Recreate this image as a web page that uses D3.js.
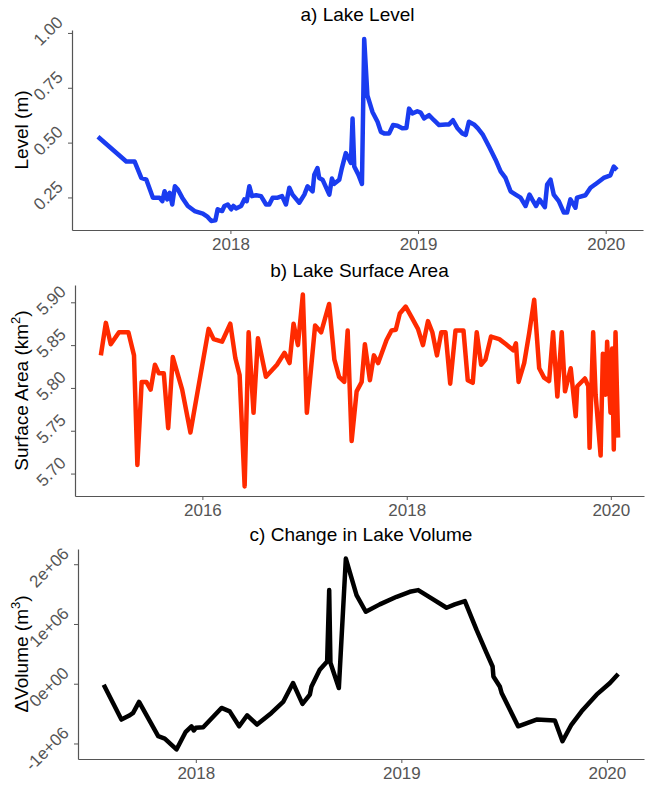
<!DOCTYPE html>
<html>
<head>
<meta charset="utf-8">
<script src="https://cdn.jsdelivr.net/npm/d3@7"></script>
<style>
  body { margin: 0; background: #fff; }
  svg { font-family: "Liberation Sans", Arial, sans-serif; }
</style>
</head>
<body>
<svg id="svg" width="654" height="792"></svg>
<script>
// a) lake level (m), dates as decimal years
const levelYear = [2017.294, 2017.445, 2017.489, 2017.525, 2017.552, 2017.587, 2017.622, 2017.637, 2017.649, 2017.663,
  2017.676, 2017.690, 2017.704, 2017.720, 2017.743, 2017.773, 2017.809, 2017.853, 2017.879, 2017.897,
  2017.920, 2017.932, 2017.956, 2017.968, 2017.986, 2018.004, 2018.016, 2018.030, 2018.057, 2018.074,
  2018.087, 2018.101, 2018.115, 2018.137, 2018.163, 2018.190, 2018.207, 2018.225, 2018.252, 2018.275,
  2018.296, 2018.314, 2018.331, 2018.367, 2018.394, 2018.411, 2018.438, 2018.447, 2018.464, 2018.473,
  2018.491, 2018.527, 2018.541, 2018.553, 2018.580, 2018.594, 2018.615, 2018.629, 2018.642, 2018.651,
  2018.660, 2018.682, 2018.701, 2018.713, 2018.730, 2018.757, 2018.784, 2018.802, 2018.819, 2018.846,
  2018.867, 2018.890, 2018.916, 2018.938, 2018.952, 2018.970, 2018.996, 2019.014, 2019.032, 2019.059,
  2019.085, 2019.112, 2019.147, 2019.165, 2019.186, 2019.209, 2019.236, 2019.254, 2019.271, 2019.298,
  2019.319, 2019.346, 2019.378, 2019.413, 2019.440, 2019.466, 2019.493, 2019.520, 2019.546, 2019.573,
  2019.594, 2019.608, 2019.629, 2019.647, 2019.676, 2019.688, 2019.706, 2019.723, 2019.750, 2019.777,
  2019.794, 2019.812, 2019.839, 2019.847, 2019.892, 2019.919, 2019.954, 2019.989, 2020.025, 2020.043, 2020.060];
const levelM = [0.527, 0.414, 0.414, 0.339, 0.331, 0.249, 0.249, 0.233, 0.278, 0.241,
  0.271, 0.218, 0.301, 0.286, 0.249, 0.211, 0.188, 0.176, 0.161, 0.143,
  0.146, 0.196, 0.188, 0.211, 0.218, 0.196, 0.211, 0.200, 0.211, 0.241,
  0.233, 0.301, 0.256, 0.260, 0.256, 0.218, 0.218, 0.249, 0.249, 0.256,
  0.218, 0.294, 0.263, 0.226, 0.263, 0.301, 0.278, 0.354, 0.384, 0.339,
  0.331, 0.263, 0.336, 0.312, 0.331, 0.384, 0.452, 0.429, 0.407, 0.610,
  0.391, 0.354, 0.312, 0.972, 0.715, 0.640, 0.595, 0.549, 0.542, 0.542,
  0.580, 0.577, 0.565, 0.567, 0.655, 0.633, 0.643, 0.637, 0.610, 0.625,
  0.602, 0.580, 0.583, 0.583, 0.602, 0.567, 0.542, 0.535, 0.595, 0.583,
  0.565, 0.535, 0.482, 0.422, 0.369, 0.339, 0.278, 0.263, 0.249, 0.211,
  0.263, 0.241, 0.211, 0.241, 0.206, 0.309, 0.331, 0.263, 0.233, 0.181,
  0.181, 0.241, 0.203, 0.249, 0.260, 0.294, 0.316, 0.339, 0.351, 0.391, 0.376];
const levelTicks = [0.25, 0.5, 0.75, 1.0];
const levelTickLabels = ['0.25', '0.50', '0.75', '1.00'];
const levelYearTicks = [2018, 2019, 2020];

// b) surface area (km2)
const areaYear = [2015.005, 2015.054, 2015.102, 2015.183, 2015.275, 2015.330, 2015.363, 2015.405, 2015.451, 2015.493,
  2015.535, 2015.574, 2015.622, 2015.665, 2015.710, 2015.802, 2015.883, 2016.061, 2016.110, 2016.192,
  2016.273, 2016.322, 2016.364, 2016.413, 2016.452, 2016.500, 2016.543, 2016.621, 2016.729, 2016.803,
  2016.852, 2016.891, 2016.934, 2016.982, 2017.021, 2017.102, 2017.161, 2017.239, 2017.291, 2017.337,
  2017.388, 2017.421, 2017.460, 2017.509, 2017.558, 2017.590, 2017.639, 2017.678, 2017.720, 2017.802,
  2017.851, 2017.893, 2017.932, 2017.990, 2018.046, 2018.110, 2018.159, 2018.208, 2018.251, 2018.296,
  2018.339, 2018.380, 2018.426, 2018.478, 2018.556, 2018.598, 2018.647, 2018.686, 2018.729, 2018.771,
  2018.826, 2018.907, 2018.973, 2019.044, 2019.070, 2019.096, 2019.151, 2019.200, 2019.249, 2019.298,
  2019.346, 2019.395, 2019.434, 2019.476, 2019.519, 2019.551, 2019.607, 2019.656, 2019.671, 2019.746,
  2019.779, 2019.792, 2019.827, 2019.851, 2019.900, 2019.922, 2019.948, 2019.964, 2019.997, 2020.013,
  2020.029, 2020.046, 2020.071];
const areaKm2 = [5.838, 5.876, 5.851, 5.865, 5.865, 5.838, 5.710, 5.807, 5.807, 5.798,
  5.827, 5.817, 5.817, 5.753, 5.836, 5.798, 5.748, 5.869, 5.857, 5.854,
  5.875, 5.835, 5.815, 5.685, 5.865, 5.771, 5.858, 5.813, 5.827, 5.841,
  5.829, 5.875, 5.850, 5.909, 5.771, 5.873, 5.865, 5.898, 5.833, 5.813,
  5.807, 5.867, 5.738, 5.796, 5.807, 5.851, 5.809, 5.838, 5.829, 5.856,
  5.867, 5.868, 5.887, 5.895, 5.883, 5.869, 5.850, 5.878, 5.865, 5.838,
  5.865, 5.865, 5.805, 5.867, 5.867, 5.809, 5.806, 5.865, 5.827, 5.833,
  5.860, 5.857, 5.851, 5.844, 5.852, 5.807, 5.829, 5.864, 5.903, 5.823,
  5.812, 5.808, 5.865, 5.790, 5.865, 5.796, 5.823, 5.767, 5.802, 5.811,
  5.802, 5.730, 5.865, 5.792, 5.721, 5.840, 5.792, 5.854, 5.771, 5.846,
  5.728, 5.865, 5.742];
const areaTicks = [5.70, 5.75, 5.80, 5.85, 5.90];
const areaTickLabels = ['5.70', '5.75', '5.80', '5.85', '5.90'];
const areaYearTicks = [2016, 2018, 2020];

// c) change in volume (m3)
const volYear = [2017.552, 2017.638, 2017.679, 2017.695, 2017.724, 2017.817, 2017.849, 2017.906, 2017.951, 2017.979,
  2017.990, 2018.000, 2018.036, 2018.125, 2018.165, 2018.211, 2018.250, 2018.298, 2018.368, 2018.425,
  2018.473, 2018.519, 2018.555, 2018.563, 2018.603, 2018.639, 2018.649, 2018.655, 2018.696, 2018.730,
  2018.782, 2018.827, 2018.895, 2018.977, 2019.041, 2019.082, 2019.147, 2019.220, 2019.260, 2019.309,
  2019.366, 2019.415, 2019.444, 2019.448, 2019.479, 2019.488, 2019.568, 2019.658, 2019.747, 2019.784,
  2019.828, 2019.877, 2019.950, 2020.015, 2020.055];
const volChange = [-17000, -600000, -528000, -488000, -305000, -878000, -917000, -1100000, -805000, -712000,
  -783000, -738000, -728000, -405000, -462000, -712000, -528000, -683000, -488000, -305000,
  12000, -338000, -183000, -45000, 233000, 372000, 1567000, 350000, -72000, 2095000,
  1483000, 1205000, 1328000, 1455000, 1538000, 1567000, 1428000, 1272000, 1328000, 1383000,
  900000, 512000, 288000, 122000, -45000, -155000, -712000, -600000, -617000, -962000,
  -683000, -462000, -183000, 12000, 162000];
const volTicks = [-1e6, 0, 1e6, 2e6];
const volTickLabels = ['-1e+06', '0e+00', '1e+06', '2e+06'];
const volYearTicks = [2018, 2019, 2020];

function yearToDate(y) {
  const yr = Math.floor(y);
  const start = new Date(yr, 0, 1), end = new Date(yr + 1, 0, 1);
  return new Date(+start + (y - yr) * (end - start));
}

// ggplot style 5% expansion
function expand(ext) {
  const pad = (ext[1] - ext[0]) * 0.05;
  return [ext[0] - pad, ext[1] + pad];
}

const svg = d3.select('#svg');
const tickColor = '#555';

const panels = [
  { title: 'a) Lake Level', titleY: 21, years: levelYear, values: levelM, color: '#1a3cf0',
    box: { l: 72, r: 643, t: 30, b: 230 }, yTicks: levelTicks, yLabels: levelTickLabels,
    xTicks: levelYearTicks, yTitle: ['Level (m)'] },
  { title: 'b) Lake Surface Area', titleY: 277, years: areaYear, values: areaKm2, color: '#ff2a00',
    box: { l: 75, r: 644, t: 285, b: 496 }, yTicks: areaTicks, yLabels: areaTickLabels,
    xTicks: areaYearTicks, yTitle: ['Surface Area (km', '2', ')'] },
  { title: 'c) Change in Lake Volume', titleY: 541, years: volYear, values: volChange, color: '#000',
    box: { l: 78, r: 644, t: 549, b: 759 }, yTicks: volTicks, yLabels: volTickLabels,
    xTicks: volYearTicks, yTitle: ['\u0394Volume (m', '3', ')'] }
];

panels.forEach(p => {
  const n = Math.min(p.years.length, p.values.length);
  const data = d3.range(n).map(i => ({ date: yearToDate(p.years[i]), value: p.values[i] }));
  const xExt = expand(d3.extent(p.years));
  const x = d3.scaleTime()
    .domain(xExt.map(yearToDate))
    .range([p.box.l, p.box.r]);
  const y = d3.scaleLinear()
    .domain(expand(d3.extent(p.values)))
    .range([p.box.b, p.box.t]);

  // x axis
  svg.append('g')
    .attr('transform', `translate(0, ${p.box.b})`)
    .attr('color', tickColor)
    .call(d3.axisBottom(x)
      .tickValues(p.xTicks.map(yearToDate))
      .tickFormat(d3.timeFormat('%Y'))
      .tickSize(4)
      .tickSizeOuter(0)
      .tickPadding(4))
    .call(g => g.select('.domain').attr('stroke-width', 1.2))
    .call(g => g.selectAll('text')
      .attr('font-size', 17)
      .attr('font-family', '"Liberation Sans", Arial, sans-serif')
      .attr('dy', 0)
      .attr('y', 20));

  // y axis with slanted labels
  svg.append('g')
    .attr('transform', `translate(${p.box.l}, 0)`)
    .attr('color', tickColor)
    .call(d3.axisLeft(y)
      .tickValues(p.yTicks)
      .tickFormat((d, i) => p.yLabels[i])
      .tickSize(4)
      .tickSizeOuter(0))
    .call(g => g.select('.domain').attr('stroke-width', 1.2))
    .call(g => g.selectAll('text')
      .attr('font-size', 17)
      .attr('font-family', '"Liberation Sans", Arial, sans-serif')
      .attr('x', 0)
      .attr('dy', 0)
      .attr('transform', 'translate(-8,-10) rotate(-45)'));

  // y title
  const yt = svg.append('text')
    .attr('transform', `translate(28, ${(p.box.t + p.box.b) / 2}) rotate(-90)`)
    .attr('text-anchor', 'middle')
    .attr('font-size', 19)
    .attr('fill', '#000');
  yt.append('tspan').text(p.yTitle[0]);
  if (p.yTitle.length > 1) {
    yt.append('tspan').attr('font-size', 13).attr('dy', -8).text(p.yTitle[1]);
    yt.append('tspan').attr('dy', 8).text(p.yTitle[2]);
  }

  // title
  svg.append('text')
    .attr('x', (p.box.l + p.box.r) / 2)
    .attr('y', p.titleY)
    .attr('text-anchor', 'middle')
    .attr('font-size', 19)
    .attr('fill', '#000')
    .text(p.title);

  svg.append('path')
    .datum(data)
    .attr('fill', 'none')
    .attr('stroke', p.color)
    .attr('stroke-width', 4.5)
    .attr('stroke-linejoin', 'round')
    .attr('d', d3.line().x(d => x(d.date)).y(d => y(d.value)));
});
</script>
</body>
</html>
